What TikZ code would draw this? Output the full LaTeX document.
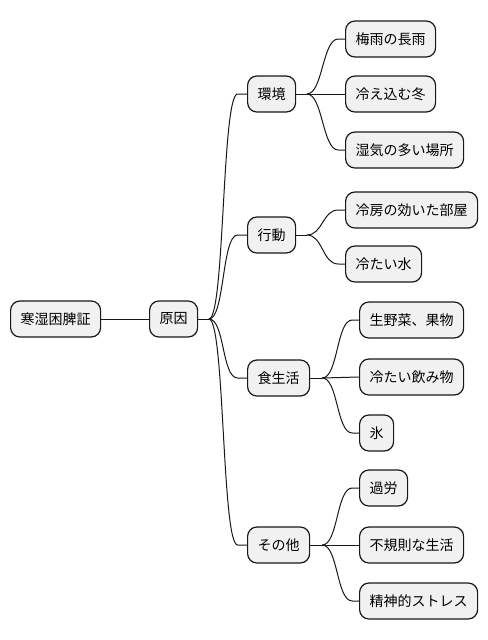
\documentclass[tikz,border=0pt]{standalone}
\usepackage{fontspec}
\setmainfont{Noto Sans CJK JP}
\usepackage{tikz}

\definecolor{boxfill}{HTML}{F1F1F1}
\definecolor{boxline}{HTML}{181818}

\tikzset{
  topic/.style={draw=boxline, fill=boxfill, line width=0.9pt, rounded corners=7pt,
    anchor=west, minimum height=27pt, inner xsep=7.5pt, inner ysep=0pt,
    font=\fontsize{10.5pt}{12pt}\selectfont},
  link/.style={draw=boxline, line width=0.75pt}
}

\begin{document}
\begin{tikzpicture}[x=0.75pt, y=-0.75pt]
    \useasboundingbox (0,0) rectangle (488,640);

    % root and first level
    \node [topic] (root) at (10,319) {寒湿困脾証};
    \node [topic] (cause) at (149,319) {原因};

    \node [topic] (env) at (247,94) {環境};
    \node [topic] (act) at (247,235) {行動};
    \node [topic] (diet) at (247,378) {食生活};
    \node [topic] (other) at (247,545) {その他};

    % leaves
    \node [topic] (rain) at (345,39) {梅雨の長雨};
    \node [topic] (winter) at (345,94) {冷え込む冬};
    \node [topic] (humid) at (345,150) {湿気の多い場所};

    \node [topic] (aircon) at (345,210) {冷房の効いた部屋};
    \node [topic] (water) at (345,264) {冷たい水};

    \node [topic] (veg) at (359,320) {生野菜、果物};
    \node [topic] (drink) at (359,377) {冷たい飲み物};
    \node [topic] (ice) at (359,433) {氷};

    \node [topic] (fatigue) at (359,488) {過労};
    \node [topic] (life) at (359,545) {不規則な生活};
    \node [topic] (stress) at (359,601) {精神的ストレス};

    % junctions
    \coordinate (causeJ) at ([xshift=8pt]cause.east);
    \coordinate (envJ) at ([xshift=8pt]env.east);
    \coordinate (actJ) at ([xshift=8pt]act.east);
    \coordinate (dietJ) at ([xshift=9pt]diet.east);
    \coordinate (otherJ) at ([xshift=9pt]other.east);

    \draw [link] (root.east) -- (cause.west);

    \draw [link] (cause.east) -- (causeJ);
    \draw [link] (causeJ) .. controls +(16,0) and +(-16,0) .. ([xshift=-7pt]env.west) -- (env.west);
    \draw [link] (causeJ) .. controls +(16,0) and +(-16,0) .. ([xshift=-7pt]act.west) -- (act.west);
    \draw [link] (causeJ) .. controls +(16,0) and +(-16,0) .. ([xshift=-7pt]diet.west) -- (diet.west);
    \draw [link] (causeJ) .. controls +(16,0) and +(-16,0) .. ([xshift=-7pt]other.west) -- (other.west);

    \draw [link] (env.east) -- (envJ);
    \draw [link] (envJ) .. controls +(16,0) and +(-16,0) .. ([xshift=-5pt]rain.west) -- (rain.west);
    \draw [link] (envJ) -- (winter.west);
    \draw [link] (envJ) .. controls +(16,0) and +(-16,0) .. ([xshift=-5pt]humid.west) -- (humid.west);

    \draw [link] (act.east) -- (actJ);
    \draw [link] (actJ) .. controls +(16,0) and +(-16,0) .. ([xshift=-5pt]aircon.west) -- (aircon.west);
    \draw [link] (actJ) .. controls +(16,0) and +(-16,0) .. ([xshift=-5pt]water.west) -- (water.west);

    \draw [link] (diet.east) -- (dietJ);
    \draw [link] (dietJ) .. controls +(16,0) and +(-16,0) .. ([xshift=-5pt]veg.west) -- (veg.west);
    \draw [link] (dietJ) -- (drink.west);
    \draw [link] (dietJ) .. controls +(16,0) and +(-16,0) .. ([xshift=-5pt]ice.west) -- (ice.west);

    \draw [link] (other.east) -- (otherJ);
    \draw [link] (otherJ) .. controls +(16,0) and +(-16,0) .. ([xshift=-5pt]fatigue.west) -- (fatigue.west);
    \draw [link] (otherJ) -- (life.west);
    \draw [link] (otherJ) .. controls +(16,0) and +(-16,0) .. ([xshift=-5pt]stress.west) -- (stress.west);
\end{tikzpicture}
\end{document}
